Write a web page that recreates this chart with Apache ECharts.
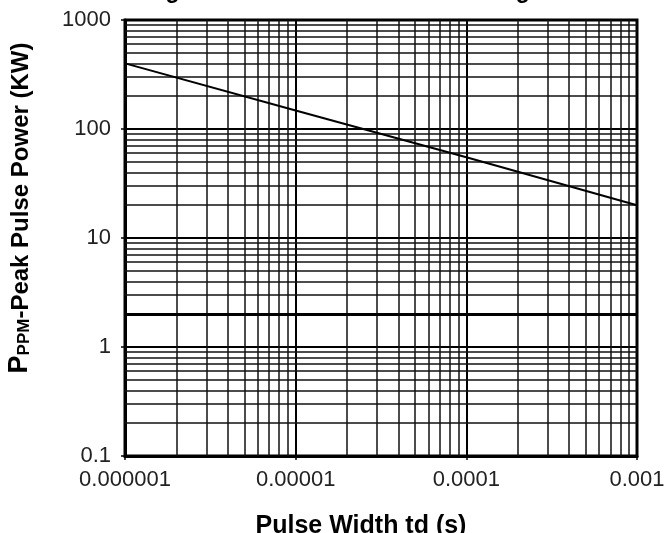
<!DOCTYPE html>
<html><head><meta charset="utf-8">
<script src="https://cdn.jsdelivr.net/npm/echarts/dist/echarts.min.js"></script>
<style>html,body{margin:0;padding:0;background:#fff}#c{width:667px;height:533px}</style>
</head><body><div id="c"></div>
<script>
const titleText = 'Figure 1 - Peak Pulse Power Rating Curve';
const xTickValues = [0.000001, 0.00001, 0.0001, 0.001];
const xTickLabels = ['0.000001', '0.00001', '0.0001', '0.001'];
const yTickValues = [0.1, 1, 10, 100, 1000];
const yTickLabels = ['0.1', '1', '10', '100', '1000'];
const pulseWidth = [0.000001, 0.00001, 0.0001, 0.001];
const peakPower = [400, 148, 55, 20];
const xMinorGrid = [0.000002, 0.000003, 0.000004, 0.000005, 0.000006, 0.000007, 0.000008, 0.000009,
                    0.00002, 0.00003, 0.00004, 0.00005, 0.00006, 0.00007, 0.00008, 0.00009,
                    0.0002, 0.0003, 0.0004, 0.0005, 0.0006, 0.0007, 0.0008, 0.0009];
const yMinorGrid = [0.2, 0.3, 0.4, 0.5, 0.6, 0.7, 0.8, 0.9,
                    3, 4, 5, 6, 7, 8, 9,
                    20, 30, 40, 50, 60, 70, 80, 90,
                    200, 300, 400, 500, 600, 700, 800, 900];
const yBoldGrid = [2];
const xRange = [0.000001, 0.001];
const yRange = [0.1, 1000];

function labelFor(v, vals, labels) {
  for (let i = 0; i < vals.length; i++) {
    if (Math.abs(Math.log10(v) - Math.log10(vals[i])) < 1e-6) return labels[i];
  }
  return '';
}

const chart = echarts.init(document.getElementById('c'), null, {renderer: 'canvas'});
const FONT = '"Liberation Sans", Arial, sans-serif';
const gridLine = {color: '#111', width: 1.5, type: 'solid'};

const vLines = xMinorGrid.map(v => [{coord: [v, yRange[0]]}, {coord: [v, yRange[1]]}]);
const hLines = yMinorGrid.map(v => [{coord: [xRange[0], v]}, {coord: [xRange[1], v]}]);
const bLines = yBoldGrid.map(v => [{coord: [xRange[0], v], lineStyle: {color: '#000', width: 3}}, {coord: [xRange[1], v]}]);

chart.setOption({
  animation: false,
  backgroundColor: '#fff',
  title: {
    text: titleText, left: 140, top: -25,
    textStyle: {fontFamily: FONT, fontWeight: 'bold', fontSize: 23, lineHeight: 23, color: '#000'}
  },
  grid: {left: 125, right: 30, top: 20, bottom: 77, show: true, borderColor: '#000', borderWidth: 3,
         containLabel: false, outerBoundsMode: 'none'},
  xAxis: {
    type: 'log', logBase: 10, min: xRange[0], max: xRange[1],
    name: 'Pulse Width td (s)', nameLocation: 'middle', nameGap: 58,
    nameTextStyle: {fontFamily: FONT, fontWeight: 'bold', fontSize: 25, color: '#000', padding: [0, 40, 0, 0]},
    axisLine: {show: true, lineStyle: {color: '#000', width: 3}},
    axisTick: {show: true, length: 4, lineStyle: {color: '#000', width: 1.5}},
    axisLabel: {fontFamily: FONT, fontSize: 22, color: '#222', margin: 13, hideOverlap: false,
      formatter: v => labelFor(v, xTickValues, xTickLabels)},
    splitLine: {show: true, lineStyle: {color: '#000', width: 2}},
    minorTick: {show: false}, minorSplitLine: {show: false}
  },
  yAxis: {
    type: 'log', logBase: 10, min: yRange[0], max: yRange[1],
    name: '{p|P}{s|PPM}{m|-Peak Pulse Power (KW)}', nameLocation: 'middle', nameGap: 92, nameRotate: 90,
    nameTextStyle: {
      fontFamily: FONT, fontWeight: 'bold', color: '#000', padding: [0, 0, 0, 60],
      rich: {
        p: {fontFamily: FONT, fontWeight: 'bold', fontSize: 27, color: '#000', verticalAlign: 'bottom', lineHeight: 30},
        s: {fontFamily: FONT, fontWeight: 'bold', fontSize: 17, color: '#000', verticalAlign: 'bottom', lineHeight: 30},
        m: {fontFamily: FONT, fontWeight: 'bold', fontSize: 24, color: '#000', verticalAlign: 'bottom', lineHeight: 30}
      }
    },
    axisLine: {show: true, lineStyle: {color: '#000', width: 3}},
    axisTick: {show: true, length: 4, lineStyle: {color: '#000', width: 1.5}},
    axisLabel: {fontFamily: FONT, fontSize: 22, color: '#222', margin: 14, hideOverlap: false,
      formatter: v => labelFor(v, yTickValues, yTickLabels)},
    splitLine: {show: true, lineStyle: {color: '#000', width: 2}},
    minorTick: {show: false}, minorSplitLine: {show: false}
  },
  series: [
    {
      type: 'line', data: [], z: 1, silent: true,
      markLine: {
        silent: true, symbol: ['none', 'none'], label: {show: false}, animation: false,
        lineStyle: gridLine, emphasis: {disabled: true},
        data: [].concat(vLines, hLines, bLines)
      }
    },
    {
      type: 'line', z: 5, silent: true, symbol: 'none',
      lineStyle: {color: '#000', width: 2},
      data: pulseWidth.map((x, i) => [x, peakPower[i]])
    }
  ]
});
</script>
</body></html>
